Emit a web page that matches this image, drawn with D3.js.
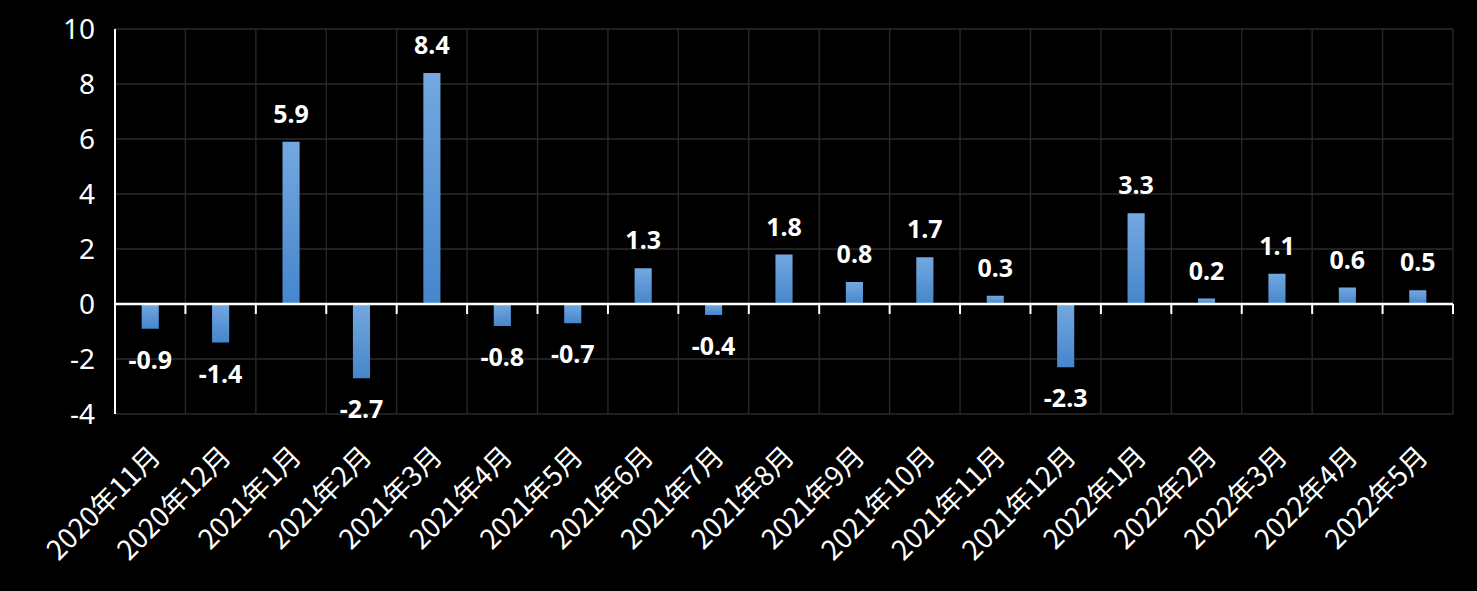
<!DOCTYPE html>
<html>
<head>
<meta charset="utf-8">
<script src="https://cdn.jsdelivr.net/npm/d3@7"></script>
<style>
  html, body { margin: 0; padding: 0; background: #000; }
  svg { display: block; }
</style>
</head>
<body>
<svg id="chart" width="1477" height="591"></svg>
<script>
const categories = ["2020年11月","2020年12月","2021年1月","2021年2月","2021年3月","2021年4月","2021年5月","2021年6月","2021年7月","2021年8月","2021年9月","2021年10月","2021年11月","2021年12月","2022年1月","2022年2月","2022年3月","2022年4月","2022年5月"];
const values = [-0.9,-1.4,5.9,-2.7,8.4,-0.8,-0.7,1.3,-0.4,1.8,0.8,1.7,0.3,-2.3,3.3,0.2,1.1,0.6,0.5];
const yTicks = [-4,-2,0,2,4,6,8,10];

const W = 1477, H = 591;
const plotLeft = 115, plotRight = 1453, plotTop = 29, plotBottom = 414;

const svg = d3.select("#chart");
svg.append("rect").attr("width", W).attr("height", H).attr("fill", "#000");

const defs = svg.append("defs");
const grad = defs.append("linearGradient").attr("id", "barGrad")
  .attr("x1", 0).attr("y1", 0).attr("x2", 0).attr("y2", 1);
grad.append("stop").attr("offset", "0%").attr("stop-color", "#74a8df");
grad.append("stop").attr("offset", "100%").attr("stop-color", "#4586cd");

const x = d3.scaleBand().domain(categories).range([plotLeft, plotRight]).padding(0);
const y = d3.scaleLinear().domain([-4, 10]).range([plotBottom, plotTop]);
const bw = x.bandwidth();
const barW = bw * 0.243;

// Horizontal gridlines
svg.append("g").selectAll("line").data(yTicks).join("line")
  .attr("x1", plotLeft).attr("x2", plotRight)
  .attr("y1", d => y(d)).attr("y2", d => y(d))
  .attr("stroke", "#2b2b2b").attr("stroke-width", 1.3);

// Vertical gridlines at category boundaries
const bounds = categories.map(c => x(c)).concat([plotRight]);
svg.append("g").selectAll("line").data(bounds.slice(1)).join("line")
  .attr("x1", d => d).attr("x2", d => d)
  .attr("y1", plotTop).attr("y2", plotBottom)
  .attr("stroke", "#2b2b2b").attr("stroke-width", 1.3);

// Bars
svg.append("g").selectAll("rect").data(values).join("rect")
  .attr("x", (d, i) => x(categories[i]) + bw / 2 - barW / 2)
  .attr("width", barW)
  .attr("y", d => y(Math.max(0, d)))
  .attr("height", d => Math.abs(y(d) - y(0)))
  .attr("fill", "url(#barGrad)");

// Zero line (category axis)
svg.append("line")
  .attr("x1", plotLeft).attr("x2", plotRight)
  .attr("y1", y(0)).attr("y2", y(0))
  .attr("stroke", "#fff").attr("stroke-width", 2.6);

// Tick marks at category boundaries
svg.append("g").selectAll("line").data(bounds.slice(1)).join("line")
  .attr("x1", d => d).attr("x2", d => d)
  .attr("y1", y(0)).attr("y2", y(0) + 10)
  .attr("stroke", "#fff").attr("stroke-width", 2);

// Y axis line
svg.append("line")
  .attr("x1", plotLeft).attr("x2", plotLeft)
  .attr("y1", plotTop).attr("y2", plotBottom)
  .attr("stroke", "#fff").attr("stroke-width", 2);

// Y tick labels
svg.append("g").selectAll("text").data(yTicks).join("text")
  .attr("x", 95).attr("y", d => y(d) + 10)
  .attr("text-anchor", "end")
  .attr("fill", "#fff")
  .attr("font-family", "'Noto Sans', 'Open Sans', sans-serif")
  .attr("font-size", 28)
  .text(d => d);

// Value labels
svg.append("g").selectAll("text").data(values).join("text")
  .attr("x", (d, i) => x(categories[i]) + bw / 2)
  .attr("y", d => d >= 0 ? y(d) - 19 : y(d) + 40)
  .attr("text-anchor", "middle")
  .attr("fill", "#fff")
  .attr("font-family", "'Noto Sans', 'Open Sans', sans-serif")
  .attr("font-weight", "bold")
  .attr("font-size", 25)
  .text(d => d.toFixed(1));

// Category labels, rotated
svg.append("g").selectAll("text").data(categories).join("text")
  .attr("transform", c => `translate(${x(c) + bw / 2 + 12},458) rotate(-45)`)
  .attr("text-anchor", "end")
  .attr("fill", "#fff")
  .attr("font-family", "'Noto Sans CJK SC', 'Noto Sans', sans-serif")
  .attr("font-size", 27.5)
  .text(c => c);
</script>
</body>
</html>
